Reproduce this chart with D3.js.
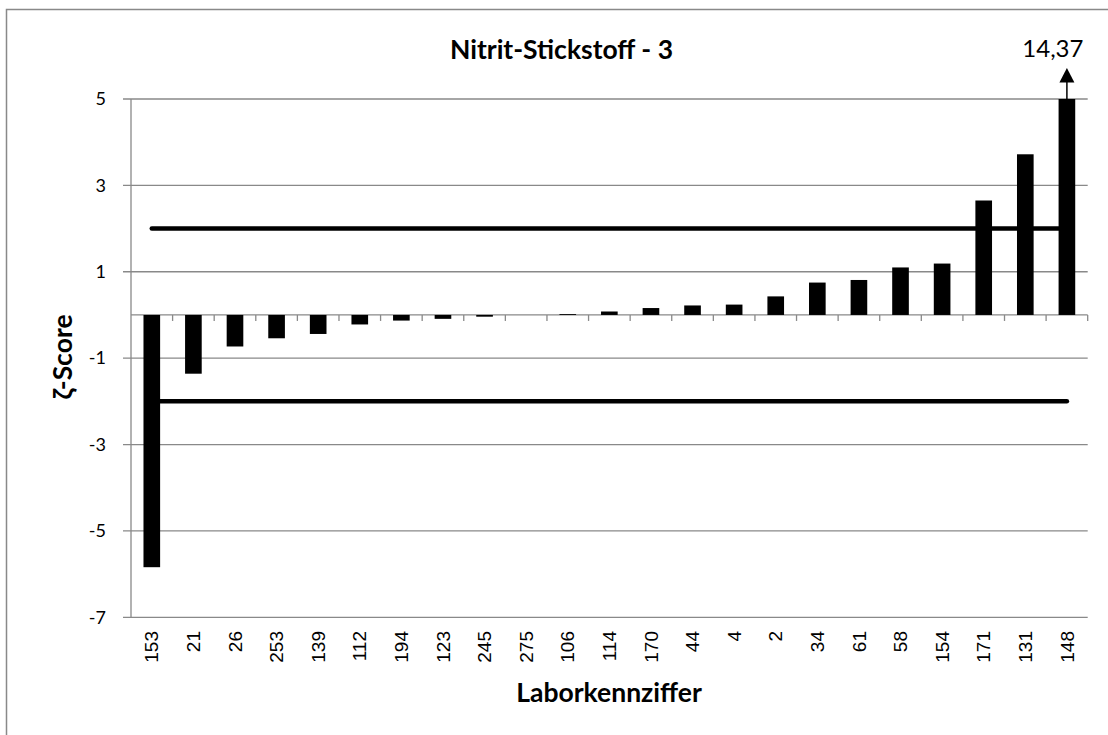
<!DOCTYPE html>
<html>
<head>
<meta charset="utf-8">
<script src="https://cdn.jsdelivr.net/npm/d3@7"></script>
<style>
  body { margin: 0; background: #fff; }
  svg { display: block; }
</style>
</head>
<body>
<script>
// Laborkennziffern, sortiert nach Score
let labs = ["153", "21", "26", "253", "139", "112", "194", "123", "245", "275", "106", "114",
    "170", "44", "4", "2", "34", "61", "58", "154", "171", "131", "148"];
let scores = [-5.84, -1.36, -0.73, -0.54, -0.44, -0.22, -0.13, -0.09, -0.04, 0.00, 0.02, 0.08,
    0.16, 0.22, 0.24, 0.43, 0.75, 0.81, 1.10, 1.19, 2.65, 3.72, 14.37];
let yTicks = [-7, -5, -3, -1, 1, 3, 5];
let limits = [2, -2];
let yMin = -7, yMax = 5;

let W = 1108, H = 735;
let grey = "#898989";

let svg = d3.select("body").append("svg")
    .attr("width", W)
    .attr("height", H);

// Rahmen (ragt rechts/unten aus dem Bild)
svg.append("rect")
    .attr("x", 6.5).attr("y", 9.5)
    .attr("width", 1115).attr("height", 740)
    .attr("fill", "#fff")
    .attr("stroke", grey)
    .attr("stroke-width", 1.5);

let x = d3.scaleBand()
    .domain(labs)
    .range([131, 1087.7])
    .paddingInner(0.6)
    .paddingOuter(0.3);

let y = d3.scaleLinear()
    .domain([yMin, yMax])
    .range([617.3, 99]);

let step = x.step();
let cx = function (d) { return x(d) + x.bandwidth() / 2; };

// Gitternetz
svg.append("g").selectAll("line")
    .data(yTicks)
    .enter().append("line")
    .attr("x1", 123).attr("x2", 1087.7)
    .attr("y1", function (d) { return y(d); })
    .attr("y2", function (d) { return y(d); })
    .attr("stroke", grey)
    .attr("stroke-width", 1.3);

// y-Achse
svg.append("line")
    .attr("x1", 131).attr("x2", 131)
    .attr("y1", y(yMax)).attr("y2", y(yMin))
    .attr("stroke", grey).attr("stroke-width", 1.3);

svg.append("g").selectAll("text")
    .data(yTicks)
    .enter().append("text")
    .text(function (d) { return d; })
    .attr("x", 106)
    .attr("y", function (d) { return y(d); })
    .attr("dy", "0.35em")
    .attr("text-anchor", "end")
    .style("font-family", "Lato")
    .style("font-size", "18px")
    .style("fill", "#000");

// Nulllinie mit Teilstrichen
svg.append("line")
    .attr("x1", 131).attr("x2", 1087.7)
    .attr("y1", y(0)).attr("y2", y(0))
    .attr("stroke", grey).attr("stroke-width", 1.3);

svg.append("g").selectAll("line")
    .data(labs)
    .enter().append("line")
    .attr("x1", function (d) { return x(d) - step * 0.3 + step; })
    .attr("x2", function (d) { return x(d) - step * 0.3 + step; })
    .attr("y1", y(0)).attr("y2", y(0) + 6)
    .attr("stroke", grey).attr("stroke-width", 1.3);

// Balken (oben abgeschnitten bei 5)
svg.append("g").selectAll("rect")
    .data(scores)
    .enter().append("rect")
    .attr("x", function (d, i) { return x(labs[i]); })
    .attr("width", x.bandwidth())
    .attr("y", function (d) { return y(Math.min(Math.max(d, 0), yMax)); })
    .attr("height", function (d) {
        let v = Math.max(Math.min(d, yMax), yMin);
        return Math.abs(y(v) - y(0));
    })
    .attr("fill", "#000");

// Grenzlinien +2 / -2
svg.append("g").selectAll("line")
    .data(limits)
    .enter().append("line")
    .attr("x1", cx(labs[0]))
    .attr("x2", cx(labs[labs.length - 1]))
    .attr("y1", function (d) { return y(d); })
    .attr("y2", function (d) { return y(d); })
    .attr("stroke", "#000")
    .attr("stroke-width", 4.5)
    .attr("stroke-linecap", "round");

// Pfeil fuer den abgeschnittenen Wert
let last = labs.length - 1;
let ax = cx(labs[last]);
svg.append("line")
    .attr("x1", ax).attr("x2", ax)
    .attr("y1", y(yMax)).attr("y2", y(yMax) - 18)
    .attr("stroke", "#000").attr("stroke-width", 1.5);
svg.append("path")
    .attr("d", "M" + ax + "," + (y(yMax) - 31) +
        "L" + (ax + 7.5) + "," + (y(yMax) - 16.5) +
        "L" + (ax - 7.5) + "," + (y(yMax) - 16.5) + "Z")
    .attr("fill", "#000");
svg.append("text")
    .text(d3.format(".2f")(scores[last]).replace(".", ","))
    .attr("x", ax - 14)
    .attr("y", 57)
    .attr("text-anchor", "middle")
    .style("font-family", "Lato")
    .style("font-size", "24px")
    .style("fill", "#000");

// x-Beschriftung
svg.append("g").selectAll("text")
    .data(labs)
    .enter().append("text")
    .text(function (d) { return d; })
    .attr("transform", function (d) { return "translate(" + cx(d) + ",631) rotate(-90)"; })
    .attr("dy", "0.35em")
    .attr("text-anchor", "end")
    .style("font-family", "Liberation Sans")
    .style("font-size", "19px")
    .style("fill", "#000");

// Titel
svg.append("text")
    .text("Nitrit-Stickstoff - 3")
    .attr("x", 561.5).attr("y", 58.5)
    .attr("text-anchor", "middle")
    .style("font-family", "Lato")
    .style("font-weight", "bold")
    .style("font-size", "26.5px");

svg.append("text")
    .text("Laborkennziffer")
    .attr("x", 609).attr("y", 702)
    .attr("text-anchor", "middle")
    .style("font-family", "Lato")
    .style("font-weight", "bold")
    .style("font-size", "26.5px");

svg.append("text")
    .text("ζ-Score")
    .attr("transform", "translate(72,357) rotate(-90)")
    .attr("text-anchor", "middle")
    .style("font-family", "Lato")
    .style("font-weight", "bold")
    .style("font-size", "26.5px");
</script>
</body>
</html>
